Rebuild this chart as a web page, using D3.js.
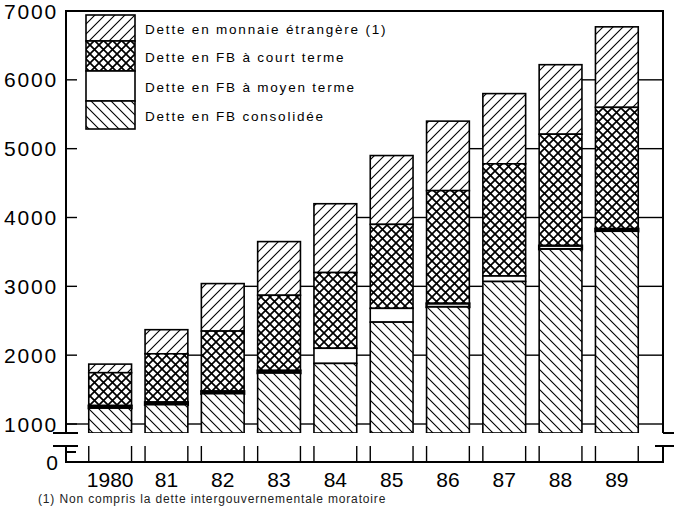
<!DOCTYPE html>
<html>
<head>
<meta charset="utf-8">
<script src="https://cdn.jsdelivr.net/npm/d3@7"></script>
<style>
body { margin: 0; background: #fff; }
svg { display: block; }
text { font-family: "Liberation Sans", Arial, sans-serif; fill: #000; }
</style>
</head>
<body>
<div id="chart"></div>
<script>
// valeurs (milliards FB)
let years = ["1980","81","82","83","84","85","86","87","88","89"];
let consolidee = [1230,1280,1440,1740,1880,2480,2700,3070,3540,3800];
let moyenTerme = [35,35,35,35,220,200,50,80,50,35];
let courtTerme = [480,705,875,1095,1100,1220,1640,1630,1620,1765];
let monnaieEtrangere = [125,350,690,780,1000,1000,1010,1020,1010,1170];
let yTicks = [1000,2000,3000,4000,5000,6000,7000];
let legendLabels = ["Dette en monnaie étrangère (1)","Dette en FB à court terme","Dette en FB à moyen terme","Dette en FB consolidée"];
let footnote = "(1) Non compris la dette intergouvernementale moratoire";

let width = 674, height = 512;
let left = 66, right = 663;
let breakTop = 433, breakBottom = 446, zeroY = 462;

let svg = d3.select("#chart").append("svg")
.attr("width", width)
.attr("height", height);

let defs = svg.append("defs");

function hatch(id, d, size, sw) {
	let p = defs.append("pattern")
	.attr("id", id)
	.attr("patternUnits", "userSpaceOnUse")
	.attr("width", size)
	.attr("height", size);
	p.append("rect").attr("width", size).attr("height", size).attr("fill", "#fff");
	p.append("path").attr("d", d).attr("stroke", "#000").attr("stroke-width", sw).attr("fill", "none");
}
hatch("fwd", "M-1,1 L1,-1 M0,10 L10,0 M9,11 L11,9", 10, 1.1);
hatch("back", "M-1,9 L1,11 M0,0 L10,10 M9,-1 L11,1", 10, 1.1);
hatch("cross", "M-1,-1 L10,10 M10,-1 L-1,10", 9, 1.7);

let fills = ["url(#fwd)", "url(#cross)", "#fff", "url(#back)"];

let x = d3.scaleBand()
.domain(years)
.range([82, 645])
.paddingInner(0.24)
.paddingOuter(0.12);

let y = d3.scaleLinear()
.domain([1000, 7000])
.range([424, 11]);

// empilement
let series = years.map((yr, i) => {
	let a = consolidee[i], b = a + moyenTerme[i], c = b + courtTerme[i], d = c + monnaieEtrangere[i];
	return { year: yr, segs: [[c, d, 0], [b, c, 1], [a, b, 2], [0, a, 3]], total: d };
});
let totals = series.map(d => d.total);

// lignes de grille entre les barres
let gaps = [];
gaps.push({ x0: left, x1: x(years[0]), h: totals[0] });
for (let i = 0; i < years.length - 1; i++) {
	gaps.push({ x0: x(years[i]) + x.bandwidth(), x1: x(years[i + 1]), h: Math.min(totals[i], totals[i + 1]) });
}
gaps.push({ x0: x(years[years.length - 1]) + x.bandwidth(), x1: right, h: totals[totals.length - 1] });

let grid = svg.append("g").attr("stroke", "#000").attr("stroke-width", 1.4);
yTicks.slice(0, -1).forEach(v => {
	gaps.forEach(g => {
		if (g.h >= v) {
			grid.append("line").attr("x1", g.x0).attr("x2", g.x1).attr("y1", y(v)).attr("y2", y(v));
		}
	});
	grid.append("line").attr("x1", left).attr("x2", left + 11).attr("y1", y(v)).attr("y2", y(v));
});

// barres
let bars = svg.selectAll(".bar")
.data(series)
.enter()
.append("g")
.classed("bar", true);

bars.selectAll("rect")
.data(d => d.segs.map(s => ({ year: d.year, lo: s[0], hi: s[1], k: s[2] })))
.enter()
.append("rect")
.attr("x", d => x(d.year))
.attr("width", x.bandwidth())
.attr("y", d => y(d.hi))
.attr("height", d => (d.k === 3 ? breakTop : y(d.lo)) - y(d.hi))
.attr("fill", d => fills[d.k])
.attr("stroke", "#000")
.attr("stroke-width", d => d.k === 2 && (y(d.lo) - y(d.hi)) < 4 ? 2.4 : 1.6);

// masque sous la coupure
svg.append("rect")
.attr("x", 0).attr("y", breakTop).attr("width", width).attr("height", breakBottom - breakTop)
.attr("fill", "#fff");

// partie basse des barres (0 - coupure)
let stubs = svg.append("g").attr("stroke", "#000").attr("stroke-width", 1.4);
years.forEach(yr => {
	[x(yr), x(yr) + x.bandwidth()].forEach(px => {
		stubs.append("line").attr("x1", px).attr("x2", px).attr("y1", breakBottom).attr("y2", zeroY);
	});
});

// cadre
let frame = svg.append("g").attr("stroke", "#000").attr("stroke-width", 2).attr("fill", "none");
frame.append("path").attr("d", `M${left},${breakTop} L${left},${y(7000)} L${right},${y(7000)} L${right},${breakTop}`);
frame.append("path").attr("d", `M${left},${breakBottom} L${left},${zeroY} L${right},${zeroY} L${right},${breakBottom}`);
[breakTop, breakBottom].forEach(by => {
	frame.append("line").attr("x1", left - 13).attr("x2", left + 12).attr("y1", by).attr("y2", by);
});
frame.append("line").attr("x1", right).attr("x2", right + 11).attr("y1", breakTop).attr("y2", breakTop);
frame.append("line").attr("x1", right - 8).attr("x2", right + 11).attr("y1", breakBottom).attr("y2", breakBottom);
frame.append("line").attr("x1", left).attr("x2", left + 10).attr("y1", zeroY - 10).attr("y2", zeroY - 10);

// étiquettes de l'axe
svg.selectAll(".ylab")
.data(yTicks)
.enter()
.append("text")
.attr("x", 58)
.attr("y", d => y(d))
.attr("dy", "0.36em")
.attr("text-anchor", "end")
.style("font-size", "21px")
.style("letter-spacing", "1.8px")
.text(d => d);

svg.append("text")
.attr("x", 58).attr("y", zeroY).attr("dy", "0.36em")
.attr("text-anchor", "end")
.style("font-size", "21px")
.text("0");

svg.selectAll(".xlab")
.data(years)
.enter()
.append("text")
.attr("x", d => x(d) + x.bandwidth() / 2)
.attr("y", 487)
.attr("text-anchor", "middle")
.style("font-size", "21px")
.text(d => d);

// légende
let legY = [15, 41, 71, 101, 129];
let legend = svg.append("g");
legendLabels.forEach((lab, i) => {
	legend.append("rect")
	.attr("x", 86).attr("width", 49)
	.attr("y", legY[i]).attr("height", legY[i + 1] - legY[i])
	.attr("fill", fills[i])
	.attr("stroke", "#000")
	.attr("stroke-width", 1.6);
	legend.append("text")
	.attr("x", 145)
	.attr("y", (legY[i] + legY[i + 1]) / 2 + 1)
	.attr("dy", "0.35em")
	.style("font-size", "13.5px")
	.style("letter-spacing", "1.8px")
	.text(lab);
});

svg.append("text")
.attr("x", 38).attr("y", 503)
.style("font-size", "12px")
.style("letter-spacing", "0.85px")
.style("fill", "#222")
.text(footnote);
</script>
</body>
</html>
